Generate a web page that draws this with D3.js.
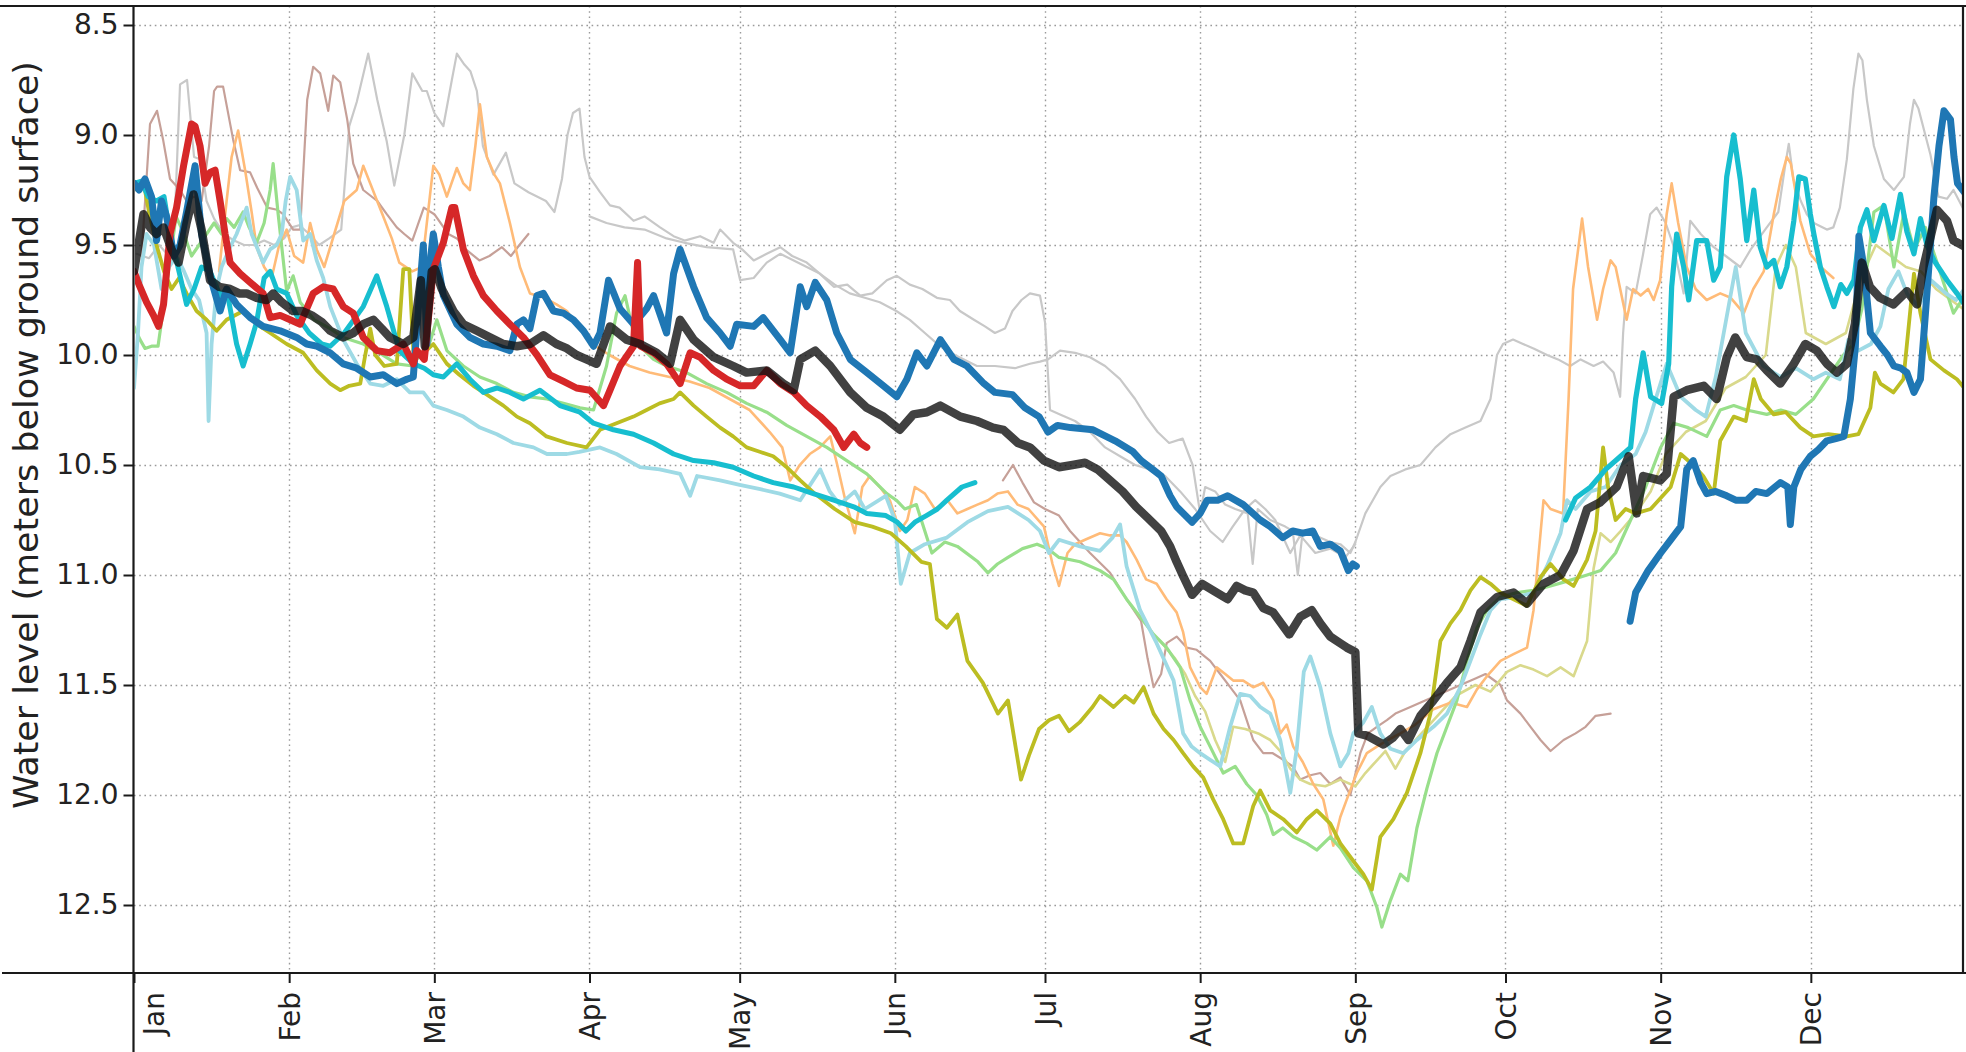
<!DOCTYPE html>
<html><head><meta charset="utf-8">
<script src="https://cdn.jsdelivr.net/npm/d3@7"></script>
<style>body{margin:0;background:#fff}svg{display:block}</style>
</head><body>
<svg id="chart" width="1966" height="1052"></svg>
<script>
// ---------- DATA (day of year offset, water level m below surface) ----------
const monthLabels = ["Jan","Feb","Mar","Apr","May","Jun","Jul","Aug","Sep","Oct","Nov","Dec"];
const yTickValues = [8.5, 9.0, 9.5, 10.0, 10.5, 11.0, 11.5, 12.0, 12.5];
const yLabel = "Water level (meters below ground surface)";

const grayA = [[0.5,9.54],[3,9.56],[5,9.5],[7,9.55],[8.2,9.35],[9.2,8.77],[10.6,8.75],[12,9.1],[13.2,9.11],[14.5,9.3],[16,9.38],[18,9.45],[20,9.48],[22,9.5],[24,9.5],[26,9.48],[28,9.5],[30,9.47],[31.5,9.42],[33,9.41],[35,9.45],[37,9.5],[39,9.47],[41.4,9.43],[43,8.96],[44.5,8.85],[46.8,8.63],[48.6,8.84],[50.5,9.03],[52,9.23],[54,9.0],[55.6,8.72],[57.6,8.8],[58.5,8.8],[60,8.9],[61.8,8.96],[63.5,8.75],[64.5,8.63],[66,8.68],[67.2,8.71],[68.5,8.8],[69.7,9.05],[71.8,9.18],[74.3,9.08],[76,9.22],[78.8,9.26],[82.3,9.3],[84,9.35],[85.5,9.2],[86.6,9.0],[87.7,8.9],[89,8.88],[90,9.1],[91,9.19],[93.1,9.26],[95.1,9.32],[97,9.33],[99.8,9.39],[102,9.37],[105.1,9.42],[107.8,9.46],[110,9.48],[113.1,9.46],[115.8,9.49],[117.1,9.43],[119.7,9.49],[121.5,9.52],[123.8,9.57],[126.4,9.54],[129.1,9.51],[131.5,9.55],[134.4,9.58],[137,9.63],[139.8,9.69],[142.5,9.68],[145.1,9.73],[147.5,9.72],[150.4,9.66],[152.4,9.64],[155,9.68],[157.5,9.7],[160.4,9.74],[163,9.75],[165,9.8],[167.8,9.84],[170,9.87],[172,9.9],[174,9.88],[175.5,9.8],[177.3,9.75],[179,9.72],[181,9.73],[182,9.85],[183,10.25],[185,10.27],[188,10.3],[191,10.35],[194,10.42],[197,10.46],[200,10.5],[203,10.52],[206,10.55],[209,10.62],[212,10.7],[215,10.8],[217.5,10.85],[219.5,10.78],[222,10.7],[224,10.66],[226,10.7],[228,10.75],[231,10.9],[233,10.82],[236,10.9],[239,10.88],[242,10.92],[244,10.86]];

const grayB = [[91,9.37],[94.4,9.4],[98,9.42],[102,9.43],[106.4,9.47],[110,9.49],[114.4,9.51],[119.7,9.52],[121.1,9.66],[123.8,9.65],[126.4,9.58],[129.1,9.54],[131.8,9.57],[134.4,9.6],[137,9.63],[140,9.68],[143,9.72],[146,9.74],[149,9.76],[152.3,9.8],[155,9.84],[158,9.9],[161,9.96],[164,10.0],[168.4,10.05],[172,10.05],[176,10.06],[179,10.04],[181,10.03],[182.6,10.02],[185,9.98],[188,9.99],[191,10.01],[194,10.05],[197,10.11],[200,10.2],[202.2,10.28],[204.5,10.35],[206.8,10.4],[209.5,10.38],[211.5,10.5],[213,10.72],[214,10.6],[216,10.62],[218,10.68],[220,10.7],[222.5,10.72],[223.5,10.95],[224.5,10.7],[227,10.75],[230,10.78],[231.5,10.8],[232.5,11.0],[233.5,10.8],[236,10.82],[239,10.85],[241,10.86],[243,10.9],[244,10.85],[246,10.72],[249,10.6],[251,10.55],[254,10.52],[257,10.5],[260,10.42],[263,10.36],[266,10.33],[269,10.3],[271,10.2],[272.3,10.0],[273.5,9.95],[275.5,9.93],[277.5,9.95],[279.6,9.97],[282.3,10.0],[284.5,10.02],[286.9,10.05],[289,10.02],[291.6,10.05],[293.5,10.03],[295.6,10.08],[296.9,10.19],[297.5,9.9],[298.2,9.69],[300,9.72],[301.5,9.54],[302.9,9.36],[304.2,9.33],[306,9.4],[307.5,9.5],[309.6,9.72],[310.9,9.39],[313,9.45],[315.6,9.51],[318,9.55],[320.9,9.6],[323,9.52],[326.2,9.42],[328.5,9.35],[329.8,9.15],[330.6,9.04],[331.5,9.2],[333,9.3],[334.2,9.36],[335.6,9.4],[338.2,9.43],[339.5,9.42],[340.8,9.33],[342.2,9.11],[343.5,8.79],[344.5,8.63],[345.3,8.66],[346.2,8.84],[347.6,9.05],[349.6,9.2],[351.6,9.25],[353.6,9.19],[354.8,8.95],[355.6,8.84],[356.5,8.88],[358.9,9.09],[360.5,9.28],[362.2,9.29],[363.5,9.25],[366,9.36]];

const brownA = [[1.5,9.55],[2.5,9.2],[3.2,8.95],[4.6,8.89],[5.8,9.02],[7.2,9.2],[9.2,9.25],[10.5,9.3],[12,9.28],[13.5,9.3],[15,9.05],[16,8.8],[16.6,8.78],[17.8,8.78],[19.8,9.02],[21.2,9.16],[23.2,9.17],[24.6,9.24],[26.6,9.33],[28.6,9.34],[29.8,9.36],[31.8,9.43],[33.2,9.43],[34.6,8.84],[35.8,8.69],[37.2,8.72],[38.8,8.89],[39.8,8.73],[41.2,8.76],[42.6,8.93],[43.8,9.13],[45.8,9.25],[48.6,9.3],[50.5,9.36],[52.5,9.42],[54,9.45],[55.6,9.48],[57.9,9.33],[60,9.36],[62.8,9.45],[64.5,9.47],[66.3,9.52],[69,9.57],[71,9.55],[73.5,9.51],[75.3,9.55],[77,9.5],[78.8,9.45]];

const brownB = [[173.6,10.57],[175.6,10.5],[177.5,10.58],[179.8,10.67],[182,10.7],[184.8,10.73],[187,10.8],[191,10.9],[195,10.99],[198,11.1],[201.2,11.21],[202.5,11.38],[203.7,11.51],[205.2,11.45],[206.3,11.31],[208.3,11.28],[210.3,11.33],[212.3,11.34],[215,11.39],[217,11.45],[219,11.51],[221,11.57],[222.3,11.66],[223.6,11.75],[225.6,11.81],[227.5,11.81],[229.6,11.84],[231.5,11.87],[233,11.93],[235,11.91],[237,11.9],[239,11.95],[241,11.92],[243,12.0],[245,11.81],[246.5,11.72],[248.3,11.69],[250.3,11.66],[252,11.63],[255,11.6],[260,11.55],[265,11.5],[268,11.47],[270,11.45],[273,11.5],[274.3,11.57],[277,11.63],[279,11.69],[281,11.75],[283,11.8],[285.6,11.75],[288,11.72],[290,11.69],[292,11.64],[295,11.63]];

const paleOlive = [[205,11.3],[208,11.38],[210,11.45],[212,11.55],[214,11.62],[216,11.75],[218,11.85],[219.6,11.69],[222,11.7],[224.6,11.72],[227,11.75],[229,11.8],[231,11.88],[233,11.93],[235,11.95],[238,11.96],[241,11.93],[244,11.96],[246,11.9],[248,11.85],[250,11.8],[252,11.88],[254,11.8],[256,11.75],[260,11.65],[264,11.55],[268,11.5],[271,11.53],[274.3,11.44],[277,11.41],[279.6,11.43],[282.3,11.46],[285,11.42],[287.6,11.46],[290.3,11.3],[291.6,10.97],[293,10.81],[295,10.85],[297,10.8],[300,10.72],[303,10.62],[306,10.45],[310,10.35],[314,10.3],[318,10.15],[322,10.1],[326,10.0],[328,9.6],[330,9.5],[332,9.6],[334,9.9],[338,9.95],[342,9.9],[345,9.65],[348,9.5],[351,9.55],[354,9.6],[357,9.62],[360,9.7],[363,9.75],[366,9.8]];

const orange = [[17,9.62],[18.5,9.3],[19.5,9.1],[20.8,8.98],[22.2,9.16],[23.5,9.35],[24.5,9.51],[26,9.6],[27.5,9.65],[29,9.5],[30.5,9.43],[32,9.55],[33.8,9.58],[35.2,9.4],[36.5,9.52],[38,9.6],[40,9.45],[42,9.3],[44.5,9.25],[45.8,9.14],[47.2,9.22],[49.8,9.37],[51.5,9.47],[53,9.58],[55.6,9.62],[57.5,9.6],[59.8,9.14],[61,9.18],[62.5,9.28],[64.5,9.15],[65.8,9.22],[67.1,9.25],[68.2,9.05],[69.1,8.86],[70.5,9.1],[72,9.18],[73.1,9.22],[75.1,9.4],[77.1,9.6],[79.1,9.72],[82,9.74],[84.4,9.77],[86.5,9.8],[89,9.88],[91.5,9.95],[95,10.0],[99,10.05],[103,10.08],[107,10.1],[111,10.12],[115,10.15],[119,10.2],[123,10.25],[127,10.35],[129.5,10.42],[131.1,10.57],[133,10.5],[135,10.45],[137,10.42],[139.1,10.37],[140.5,10.5],[142,10.65],[144,10.81],[145.5,10.6],[147,10.55],[149,10.6],[151,10.66],[153,10.8],[154.5,10.75],[156,10.6],[158,10.63],[160,10.7],[162.5,10.66],[164.5,10.72],[166.5,10.7],[168.5,10.68],[170.6,10.66],[172.5,10.63],[174.6,10.62],[176.5,10.68],[178.7,10.7],[181.8,10.78],[183.5,10.95],[184.8,11.05],[186.5,10.9],[188,10.86],[190,10.84],[193,10.81],[195,10.82],[197,10.82],[198.3,10.85],[200.3,10.93],[202.2,11.02],[204.3,11.04],[206.3,11.11],[208.3,11.17],[209.6,11.26],[211,11.42],[213,11.51],[214.3,11.54],[216.3,11.42],[218,11.45],[219.6,11.48],[221.6,11.48],[223.6,11.51],[225.6,11.49],[227.6,11.57],[229,11.72],[230.3,11.68],[231.6,11.78],[233.5,11.85],[235.6,11.95],[237.6,12.02],[239.6,12.23],[241,12.1],[242.3,12.02],[244.3,11.9],[246.3,11.81],[248.3,11.78],[250.5,11.75],[253,11.72],[256,11.68],[259.6,11.61],[263,11.58],[266.3,11.6],[268.3,11.52],[270.3,11.46],[273,11.39],[275.6,11.36],[278.3,11.33],[279.6,11.16],[281,10.81],[281.6,10.66],[283,10.7],[285.5,10.72],[286.6,10.2],[287.5,9.7],[289.3,9.38],[290.5,9.6],[292.3,9.84],[293.5,9.7],[295,9.57],[296,9.6],[298.2,9.84],[299.5,9.7],[301,9.73],[302.5,9.7],[303.6,9.75],[304.9,9.66],[306.2,9.36],[307.2,9.22],[308.5,9.4],[310.2,9.6],[312,9.7],[314.2,9.75],[316.9,9.72],[319,9.74],[321.6,9.81],[323.5,9.7],[325.6,9.62],[327.6,9.36],[329,9.2],[330.2,9.1],[331,9.13],[332.9,9.39],[334.9,9.54],[337,9.6],[339.5,9.65]];

const lightGreen = [[0,9.87],[1.2,9.93],[2.2,9.97],[3.5,9.96],[4.8,9.96],[5.8,9.8],[7,9.6],[8.4,9.37],[10,9.45],[11.5,9.55],[13,9.5],[14.5,9.45],[16,9.4],[17.5,9.45],[18.5,9.38],[20,9.42],[21.8,9.35],[23,9.42],[24.5,9.49],[26,9.4],[27.2,9.25],[27.8,9.13],[28.8,9.36],[30.5,9.71],[31.8,9.64],[33.2,9.76],[36,9.84],[39.2,9.88],[41.8,9.92],[45.8,9.95],[49,9.99],[52.5,10.04],[55.8,10.05],[57,10.0],[59,9.95],[60.5,9.84],[62.5,9.98],[65.8,10.05],[69.1,10.1],[72.5,10.13],[75.8,10.17],[79.1,10.19],[82.5,10.2],[85.8,10.22],[89.1,10.24],[91.8,10.25],[94.4,10.05],[96.4,9.81],[98.1,9.73],[99.8,9.9],[101.5,9.97],[103.8,10.02],[106.4,10.05],[110.4,10.08],[114.4,10.13],[118.4,10.17],[122.4,10.22],[126.4,10.26],[130.4,10.32],[134.4,10.37],[138.4,10.42],[142.4,10.48],[146.4,10.54],[150.4,10.63],[152.3,10.66],[154,10.7],[156.3,10.68],[159.4,10.9],[162,10.85],[164.5,10.87],[168.6,10.94],[170.6,10.99],[172.5,10.95],[174.6,10.92],[177.5,10.88],[180.4,10.86],[182.5,10.88],[184.8,10.92],[189,10.94],[193,10.98],[195.7,11.02],[198.3,11.11],[201,11.19],[203.7,11.27],[206.3,11.33],[209,11.42],[211,11.57],[213,11.69],[215,11.78],[217.6,11.9],[220,11.87],[222.3,11.95],[224.3,12.0],[226.3,12.09],[227.6,12.18],[229.5,12.15],[231.6,12.19],[234.3,12.22],[236.3,12.25],[239,12.19],[241,12.24],[243.6,12.33],[246.3,12.39],[248.3,12.51],[249.3,12.6],[251,12.48],[253,12.36],[254.5,12.39],[256.3,12.15],[258.3,11.97],[260.3,11.81],[262.3,11.69],[264.3,11.57],[266.3,11.39],[268.3,11.24],[270.3,11.16],[273,11.1],[276.3,11.08],[279.6,11.07],[283,11.05],[286,11.03],[290.3,11.0],[293,10.98],[296,10.9],[299,10.75],[302,10.6],[305,10.42],[307.6,10.31],[310.5,10.33],[314.2,10.37],[316.9,10.25],[319.6,10.23],[322.2,10.25],[326.2,10.27],[329,10.25],[332,10.27],[335.5,10.2],[338.5,10.1],[341.5,10.0],[343.5,9.95],[345.2,9.79],[347.6,9.35],[349.6,9.32],[351.6,9.6],[353.6,9.35],[355.6,9.52],[357.9,9.42],[360.5,9.6],[363.5,9.81],[366,9.72]];

const lightBlue = [[0,10.15],[0.8,9.9],[1.5,9.6],[2.5,9.45],[4,9.5],[5.5,9.7],[7,9.6],[8.5,9.55],[10,9.62],[11.5,9.7],[13,9.75],[14.5,9.9],[14.9,10.3],[15.5,9.95],[16.5,9.7],[17.5,9.6],[19.2,9.51],[20.5,9.45],[22.5,9.33],[23.5,9.45],[25.8,9.58],[27.2,9.52],[28.5,9.5],[29.5,9.45],[30.3,9.3],[31.2,9.19],[32.5,9.25],[33.8,9.48],[35.2,9.45],[36.5,9.57],[37.8,9.65],[39.2,9.78],[41.8,9.93],[44.5,10.04],[47.2,10.13],[49.8,10.14],[52.5,10.11],[55.1,10.17],[57.8,10.17],[59.8,10.23],[62.5,10.25],[65.8,10.28],[69.1,10.33],[72.5,10.36],[75.8,10.4],[79.8,10.42],[82.5,10.45],[86.5,10.45],[89,10.44],[93.1,10.42],[96.4,10.45],[101.1,10.51],[105,10.52],[109.1,10.54],[111.1,10.64],[112.5,10.55],[117.1,10.57],[121,10.59],[125.1,10.61],[129,10.63],[133.1,10.66],[137.1,10.52],[139,10.62],[141,10.68],[144,10.62],[146,10.7],[150.2,10.64],[152,10.75],[153.2,11.04],[155,10.9],[158,10.86],[162.4,10.83],[166.5,10.76],[170.6,10.71],[174.6,10.69],[178.7,10.75],[181,10.8],[182.8,10.9],[184.8,10.84],[189,10.87],[193,10.89],[195.5,10.83],[197,10.77],[198.3,10.96],[201,11.16],[204.3,11.31],[207.7,11.48],[209.6,11.72],[211.3,11.78],[213,11.81],[215,11.84],[217,11.87],[219,11.69],[221,11.54],[223,11.55],[225,11.6],[227,11.63],[229,11.75],[231,11.99],[232.3,11.79],[233.7,11.44],[235,11.37],[237,11.51],[239,11.72],[241,11.87],[242.6,11.81],[243.6,11.72],[245.6,11.67],[247.3,11.6],[249,11.72],[251,11.79],[253.6,11.81],[256.3,11.75],[259.6,11.69],[262.3,11.63],[265,11.51],[267,11.39],[269,11.27],[271,11.16],[273,11.11],[276.3,11.1],[279.6,11.08],[282.3,10.96],[285,10.81],[286.3,10.66],[288,10.7],[291,10.62],[294,10.6],[297,10.5],[300,10.45],[302,10.35],[304,10.2],[306.2,10.04],[309,10.19],[312,10.25],[314,10.28],[316,10.1],[318,9.85],[320,9.6],[322,9.9],[325.5,10.05],[329,10.1],[332,10.06],[335.5,10.11],[338,10.08],[340.8,10.11],[342.5,9.93],[344.5,9.98],[347,9.95],[348.9,9.87],[350.5,9.7],[352.5,9.62],[354.2,9.72],[356.5,9.78],[359,9.66],[362,9.72],[364,9.75],[366,9.69]];

const olive = [[0,9.25],[1,9.22],[2.1,9.24],[3,9.35],[4.5,9.5],[6,9.62],[7.5,9.7],[9,9.65],[10.5,9.72],[12.5,9.8],[14.5,9.84],[16.5,9.89],[18.5,9.84],[21.8,9.8],[24.5,9.86],[27.2,9.9],[30.5,9.95],[33.8,9.99],[36.5,10.07],[39.2,10.13],[41.2,10.16],[43,10.14],[45.2,10.13],[46.2,10.0],[47.2,9.88],[48.2,10.0],[50,10.05],[52.5,10.04],[53.8,9.61],[55,9.61],[55.8,9.98],[57.5,10.0],[59.8,9.95],[62.5,10.04],[65,10.09],[67.8,10.14],[70.5,10.18],[73.8,10.23],[76.5,10.28],[79.1,10.31],[82.4,10.37],[86.5,10.4],[90.4,10.42],[93.1,10.34],[96.4,10.31],[99.8,10.28],[102.4,10.25],[105,10.22],[107.8,10.2],[109.1,10.17],[111.8,10.23],[114.4,10.28],[117.1,10.33],[119.7,10.37],[122.4,10.42],[125,10.44],[127.7,10.46],[130.4,10.51],[133.1,10.57],[136,10.63],[140,10.7],[144,10.76],[147.5,10.78],[151.2,10.81],[154.2,10.87],[157.3,10.94],[159,10.95],[160.4,11.2],[162.4,11.24],[164.5,11.18],[166.5,11.39],[169.6,11.49],[172.6,11.63],[174.6,11.57],[177.2,11.93],[178.8,11.82],[180.8,11.7],[182.8,11.66],[184.8,11.64],[186.8,11.71],[188.9,11.67],[191.5,11.6],[193,11.55],[195.7,11.6],[198,11.55],[199.7,11.58],[201.7,11.51],[203.7,11.63],[205.7,11.7],[207.7,11.75],[209.6,11.81],[211.6,11.87],[213.6,11.92],[215.6,12.02],[217.6,12.11],[219.6,12.22],[221.6,12.22],[223.6,12.05],[225,11.98],[227,12.07],[229.6,12.11],[232.3,12.17],[234.3,12.11],[236.3,12.07],[239,12.13],[241,12.22],[243.6,12.3],[245.6,12.36],[247.3,12.43],[249,12.19],[251.6,12.11],[254.3,11.99],[257,11.81],[259,11.63],[261,11.3],[263,11.22],[265,11.16],[267,11.07],[269,11.01],[271,11.04],[273,11.08],[275.6,11.11],[278.3,11.14],[281,11.01],[283,10.95],[285.6,11.02],[287.6,11.05],[290.3,10.93],[292,10.8],[293.5,10.42],[294.5,10.6],[296,10.75],[298,10.7],[300,10.72],[303,10.7],[305,10.65],[307,10.6],[309,10.45],[311.5,10.5],[313.5,10.55],[315.6,10.63],[316.9,10.39],[319.6,10.28],[322,10.3],[323.6,10.11],[325,10.2],[327.6,10.27],[330,10.26],[332.9,10.33],[335.5,10.37],[338.5,10.36],[342.2,10.37],[344.5,10.36],[346.9,10.24],[347.8,10.08],[348.9,10.13],[351.5,10.17],[353.5,10.11],[355.6,9.63],[356.9,9.81],[358.9,10.02],[361.6,10.07],[364.2,10.11],[366,10.16]];

const cyanA = [[0,9.22],[1.5,9.21],[2.8,9.28],[4.5,9.3],[6,9.28],[7.2,9.45],[9.2,9.64],[10.5,9.77],[12,9.7],[13.5,9.6],[15.2,9.62],[17.2,9.73],[18.5,9.7],[20.5,9.95],[21.8,10.05],[23.2,9.95],[24.5,9.85],[26,9.65],[27.2,9.62],[28.5,9.7],[30.5,9.72],[32.5,9.82],[35,9.9],[37.5,9.95],[39.2,9.96],[42,9.9],[45.8,9.78],[48.5,9.64],[50.5,9.78],[53,9.98],[55.8,10.04],[58,10.06],[59.8,10.09],[61.8,10.1],[64.5,10.04],[67.1,10.11],[69.8,10.17],[72.5,10.15],[75.1,10.17],[77.8,10.2],[81.1,10.16],[85.1,10.23],[89.1,10.26],[91.8,10.31],[95.8,10.34],[99.8,10.36],[103.8,10.4],[107.8,10.45],[111.8,10.48],[115.8,10.49],[119.7,10.51],[123.8,10.55],[127.7,10.58],[131.8,10.6],[135.7,10.63],[139.8,10.66],[143.8,10.69],[146.4,10.72],[150.2,10.73],[152.5,10.76],[154.2,10.8],[156,10.76],[158.3,10.73],[160.5,10.7],[162.4,10.66],[165.4,10.6],[168,10.58]];

const cyanB = [[286,10.75],[288,10.65],[291,10.6],[294,10.52],[297,10.46],[299,10.42],[300,10.2],[301.5,9.99],[303,10.19],[305.2,10.22],[306.6,10.04],[307.2,9.69],[308.2,9.45],[309.6,9.6],[310.6,9.75],[312.2,9.48],[314.2,9.48],[315.6,9.66],[316.9,9.6],[318.2,9.19],[319.6,9.0],[320.9,9.2],[322.2,9.48],[323.6,9.25],[324.9,9.51],[326.2,9.6],[327.6,9.57],[328.9,9.69],[330.2,9.6],[331.6,9.39],[332.6,9.19],[333.9,9.2],[334.9,9.36],[335.6,9.45],[336.9,9.6],[338.2,9.69],[339.6,9.78],[341,9.68],[342.2,9.72],[343.6,9.66],[344.9,9.42],[346.2,9.34],[347.6,9.48],[349.6,9.32],[351.2,9.47],[352.9,9.27],[354.2,9.44],[355.6,9.54],[356.9,9.38],[358.2,9.5],[359.6,9.57],[362.2,9.66],[364.2,9.72],[366,9.78]];

const blueA = [[0,9.22],[1,9.25],[2.2,9.2],[3.5,9.28],[4.5,9.48],[5.5,9.3],[6.5,9.37],[8,9.55],[9.2,9.5],[10.5,9.35],[12.2,9.14],[13.5,9.45],[15.2,9.64],[17.2,9.8],[18.5,9.7],[20.5,9.77],[23.2,9.83],[25.8,9.87],[29.2,9.89],[32.5,9.92],[34.5,9.95],[36.5,9.96],[39.2,9.99],[41.8,10.04],[44.5,10.06],[47.2,10.1],[49.8,10.09],[52.5,10.13],[54.5,10.11],[55.8,10.1],[57.1,9.7],[57.8,9.5],[58.5,9.95],[59.3,9.55],[59.8,9.45],[60.8,9.6],[61.8,9.73],[64.5,9.86],[67.1,9.92],[69.8,9.95],[72.5,9.96],[75.1,9.98],[76.5,9.86],[77.8,9.84],[79.1,9.88],[80.5,9.73],[81.8,9.72],[83.8,9.8],[85.8,9.81],[87.8,9.84],[89.8,9.89],[91.8,9.96],[93.1,9.9],[94.8,9.66],[97.1,9.79],[99.8,9.86],[102.4,9.79],[103.8,9.73],[106.4,9.9],[107.8,9.63],[109.1,9.52],[111.8,9.69],[114.4,9.83],[117.1,9.9],[119.1,9.96],[120.4,9.86],[123.8,9.87],[125.7,9.83],[129.1,9.93],[131.1,9.99],[133.1,9.69],[134.4,9.78],[136.1,9.67],[138.4,9.75],[140.4,9.9],[143.1,10.02],[146.4,10.08],[149.7,10.14],[152.4,10.19],[154.4,10.11],[156.4,9.99],[158.4,10.05],[161.1,9.93],[163.8,10.02],[166.4,10.05],[169.8,10.13],[172,10.17],[175.5,10.18],[178,10.24],[180.8,10.28],[182.6,10.35],[184.5,10.32],[187.1,10.33],[191.6,10.34],[196,10.39],[199.6,10.44],[201.2,10.48],[203.5,10.52],[205.2,10.55],[207,10.64],[208.3,10.69],[211.4,10.76],[213,10.72],[214.4,10.66],[216.5,10.66],[218.5,10.64],[221.6,10.68],[225,10.75],[227,10.78],[229.5,10.83],[231.5,10.8],[233.5,10.81],[235.5,10.8],[237,10.87],[239,10.86],[241,10.89],[242.6,10.98],[243.5,10.95],[244.2,10.96]];

const blueB = [[298.9,11.21],[300,11.08],[302.5,10.98],[305,10.9],[307,10.84],[309,10.78],[310.2,10.52],[311.5,10.48],[313,10.58],[314.2,10.63],[316,10.62],[318.2,10.64],[320,10.66],[322.2,10.66],[324,10.62],[326.2,10.63],[328.9,10.58],[330.4,10.6],[330.9,10.77],[331.6,10.6],[333,10.52],[334.9,10.46],[336.5,10.43],[338.2,10.39],[340,10.38],[341.6,10.37],[342.9,10.2],[343.9,9.96],[344.6,9.46],[345.6,9.6],[346.9,9.9],[348.9,9.96],[350.3,10.0],[351.6,10.05],[353,10.06],[354.2,10.08],[355.6,10.17],[356.9,10.11],[357.9,9.81],[359.6,9.28],[360.6,9.05],[361.6,8.89],[362.9,8.93],[363.6,9.1],[364.3,9.22],[366,9.27]];

const red = [[0,9.62],[1,9.68],[2.5,9.76],[3.9,9.82],[4.9,9.87],[5.9,9.77],[7.2,9.45],[8.5,9.33],[9.9,9.14],[11.5,8.95],[12.2,8.96],[13.2,9.05],[14.2,9.22],[15.2,9.17],[16.2,9.16],[17.2,9.3],[18.2,9.45],[19.2,9.58],[21.2,9.63],[23.2,9.67],[25.8,9.72],[27.2,9.83],[29.2,9.82],[31.2,9.84],[33.2,9.86],[35.8,9.72],[37.8,9.69],[39.8,9.7],[41.8,9.78],[43.8,9.81],[45.8,9.92],[48.5,9.98],[51.1,9.99],[53.8,9.95],[55.8,10.04],[56.5,9.98],[58,10.02],[59.8,9.61],[61.8,9.49],[63.5,9.33],[64.1,9.33],[65.8,9.52],[67.8,9.64],[69.8,9.73],[72.5,9.8],[75.1,9.86],[77.8,9.92],[80.5,10.0],[83.1,10.09],[85.8,10.12],[88.4,10.15],[91.1,10.16],[93.8,10.23],[95.1,10.16],[97.1,10.05],[99.8,9.96],[100.6,9.58],[101.2,9.96],[103.8,9.99],[106.4,10.04],[109.1,10.13],[111.1,9.99],[113.1,10.01],[115.8,10.07],[118.4,10.11],[121.1,10.14],[123.8,10.14],[126.4,10.07],[129.1,10.13],[131.8,10.17],[134.4,10.23],[137.1,10.28],[139.8,10.34],[141.8,10.42],[143.8,10.36],[145.1,10.4],[146.4,10.42]];

const median = [[0,9.62],[1.9,9.36],[3.2,9.42],[4.5,9.45],[5.9,9.42],[7.5,9.52],[8.9,9.58],[10.5,9.4],[11.9,9.27],[13.5,9.43],[15.2,9.66],[17,9.69],[19.2,9.7],[21,9.72],[22.5,9.72],[24.5,9.74],[26.5,9.75],[27.8,9.72],[29.5,9.76],[31.8,9.8],[33.5,9.8],[35.5,9.82],[37.5,9.85],[39.2,9.89],[41.8,9.92],[43.8,9.9],[45.8,9.86],[47.8,9.84],[49.5,9.88],[51.1,9.92],[53.8,9.95],[55.8,9.92],[57.3,9.66],[58.1,9.96],[59.5,9.62],[60.1,9.61],[61.5,9.7],[63.8,9.8],[65.8,9.86],[68.5,9.89],[71.1,9.92],[73.8,9.95],[76.5,9.96],[79.1,9.95],[81.8,9.91],[84.4,9.95],[86.5,9.97],[88.4,10.0],[90.4,10.02],[92.4,10.04],[95.1,9.87],[98.4,9.93],[101.1,9.95],[104.4,9.99],[107.1,10.04],[109.1,9.84],[111.8,9.93],[115.8,10.01],[119.7,10.05],[122.4,10.08],[126.4,10.07],[129.7,10.13],[131.8,10.16],[133.1,10.02],[136.1,9.98],[139.1,10.05],[143.1,10.17],[146.4,10.24],[149.7,10.28],[153,10.34],[155.7,10.27],[158.4,10.26],[161.1,10.23],[165.1,10.28],[168.4,10.3],[171.6,10.33],[173.7,10.34],[176.6,10.4],[179,10.42],[181.8,10.48],[184.8,10.51],[187.5,10.5],[190,10.49],[192.5,10.52],[195,10.57],[197.5,10.62],[200.2,10.69],[202.5,10.74],[205.2,10.8],[207,10.87],[208.3,10.94],[209.5,11.0],[211.4,11.09],[213.4,11.04],[216.3,11.08],[218.5,11.11],[220.3,11.05],[222,11.07],[223.6,11.08],[225.6,11.15],[227.6,11.17],[230.8,11.27],[233,11.19],[235.3,11.16],[237,11.22],[239,11.28],[241,11.31],[242.3,11.33],[244,11.35],[244.6,11.72],[246.3,11.73],[249.6,11.77],[251.5,11.74],[253,11.7],[254.6,11.75],[257,11.64],[259.6,11.57],[262.3,11.49],[265,11.42],[267,11.3],[269,11.17],[272.3,11.1],[275.6,11.08],[278.3,11.13],[281.6,11.04],[285,11.0],[287.6,10.89],[290.3,10.7],[292.9,10.67],[296.2,10.6],[298.6,10.46],[300.2,10.72],[301.5,10.55],[304.9,10.57],[306.2,10.54],[307.6,10.19],[310.2,10.16],[313.6,10.14],[316.2,10.2],[318.2,10.01],[319.9,9.92],[322.2,10.01],[324.2,10.02],[326.2,10.07],[328.9,10.13],[331.6,10.04],[333.9,9.95],[336.2,9.98],[338.2,10.04],[340.2,10.08],[342.2,10.04],[343.8,9.86],[345.2,9.58],[346.8,9.69],[348.8,9.74],[351.5,9.77],[354.2,9.71],[356.2,9.77],[357.5,9.6],[360.2,9.34],[362.2,9.39],[363.5,9.48],[366,9.51]];

// ---------- STYLES (drawing order: first is bottom) ----------
const styles = [
  {data: grayA, color: "#c8c8c8", width: 2.2},
  {data: grayB, color: "#c8c8c8", width: 2.2},
  {data: brownA, color: "#c6a098", width: 2.2},
  {data: brownB, color: "#c6a098", width: 2.2},
  {data: paleOlive, color: "#d9d98c", width: 2.6},
  {data: orange, color: "#ffbb78", width: 2.6},
  {data: lightGreen, color: "#98df8a", width: 3.2},
  {data: lightBlue, color: "#9edae5", width: 3.8},
  {data: olive, color: "#bcbd22", width: 3.8},
  {data: cyanA, color: "#17becf", width: 5},
  {data: cyanB, color: "#17becf", width: 5.2},
  {data: blueA, color: "#1f77b4", width: 7},
  {data: blueB, color: "#1f77b4", width: 7},
  {data: red, color: "#d62728", width: 7},
  {data: median, color: "#111111", width: 8.5, opacity: 0.8}
];

// ---------- CHART ----------
const W = 1966, H = 1052;
const L = 134, R = 1963, T = 6, B = 973;
const t0 = Date.UTC(2020, 0, 1);
const dayToDate = d => new Date(t0 + d * 864e5);

const x = d3.scaleUtc().domain([new Date(t0), new Date(Date.UTC(2021, 0, 1))]).range([L, 1966]);
const y = d3.scaleLinear().domain([8.5, 12.5]).range([25, 905]);

const svg = d3.select("#chart");
const font = "'DejaVu Sans', Verdana, sans-serif";

// gridlines
const monthDates = d3.utcMonth.range(new Date(t0), new Date(Date.UTC(2021, 0, 1)));
const grid = svg.append("g").attr("stroke", "#9a9a9a").attr("stroke-width", 1.4).attr("stroke-dasharray", "1.6,3.6");
grid.selectAll("line.v").data(monthDates.slice(1)).join("line")
  .attr("x1", d => Math.round(x(d)) + 0.5).attr("x2", d => Math.round(x(d)) + 0.5)
  .attr("y1", T).attr("y2", B);
grid.selectAll("line.h").data(yTickValues).join("line")
  .attr("x1", L).attr("x2", R)
  .attr("y1", d => Math.round(y(d)) + 0.5).attr("y2", d => Math.round(y(d)) + 0.5);

// series
svg.append("defs").append("clipPath").attr("id", "plotclip")
  .append("rect").attr("x", L + 1).attr("y", T + 1).attr("width", R - L - 2).attr("height", B - T - 2);
const line = d3.line().x(d => x(dayToDate(d[0]))).y(d => y(d[1]));
const lines = svg.append("g").attr("clip-path", "url(#plotclip)");
styles.forEach(s => {
  lines.append("path").attr("d", line(s.data))
    .attr("fill", "none").attr("stroke", s.color).attr("stroke-width", s.width)
    .attr("stroke-opacity", s.opacity || 1)
    .attr("stroke-linejoin", "round").attr("stroke-linecap", "round");
});

// y axis
const yAxis = svg.append("g").attr("transform", `translate(${L - 0.5},0)`)
  .call(d3.axisLeft(y).tickValues(yTickValues).tickFormat(d3.format(".1f")).tickSize(10).tickPadding(5));
yAxis.select(".domain").remove();
yAxis.selectAll(".tick line").attr("stroke", "#1a1a1a").attr("stroke-width", 2);
yAxis.selectAll(".tick text").attr("font-family", font).attr("font-size", 28).attr("fill", "#222");

// x axis
const xAxis = svg.append("g").attr("transform", `translate(0,${B})`)
  .call(d3.axisBottom(x).tickValues(monthDates).tickFormat(d => monthLabels[d.getUTCMonth()]).tickSize(10));
xAxis.select(".domain").remove();
xAxis.selectAll(".tick line").attr("stroke", "#1a1a1a").attr("stroke-width", 2);
xAxis.selectAll(".tick text")
  .attr("font-family", font).attr("font-size", 28).attr("fill", "#222")
  .attr("text-anchor", "end")
  .attr("transform", "rotate(-90)")
  .attr("x", -19)
  .attr("y", (d, i) => i === 0 ? 19 : 0)
  .attr("dy", "0.36em");

// frame
const frame = svg.append("g").attr("stroke", "#1a1a1a").attr("stroke-width", 2.2);
frame.append("line").attr("x1", 0).attr("x2", W).attr("y1", T).attr("y2", T);
frame.append("line").attr("x1", 2).attr("x2", W).attr("y1", B).attr("y2", B);
frame.append("line").attr("x1", L - 0.5).attr("x2", L - 0.5).attr("y1", T).attr("y2", H);
frame.append("line").attr("x1", R).attr("x2", R).attr("y1", T).attr("y2", B);

// y label
svg.append("text")
  .attr("transform", "translate(38,435) rotate(-90)")
  .attr("text-anchor", "middle")
  .attr("font-family", font).attr("font-size", 33).attr("fill", "#222")
  .attr("textLength", 748).attr("lengthAdjust", "spacingAndGlyphs")
  .text(yLabel);
</script>
</body></html>
